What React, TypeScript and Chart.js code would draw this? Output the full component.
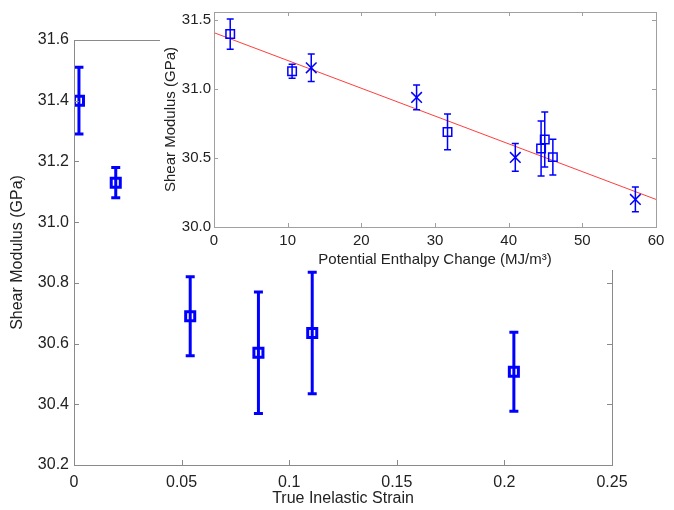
import React, { useEffect, useRef } from 'react';
import { Chart, registerables } from 'chart.js';

Chart.register(...registerables);

// ---- Main chart data (True Inelastic Strain vs Shear Modulus) ----
const strain = [0.0023, 0.0194, 0.054, 0.0857, 0.1107, 0.2044];
const squareModulus = [31.40, 31.13, 30.69, 30.57, 30.635, 30.507];
const squareErr = [0.11, 0.05, 0.13, 0.20, 0.20, 0.13];

const mainXTicks = [0, 0.05, 0.1, 0.15, 0.2, 0.25];
const mainXTickLabels = ['0', '0.05', '0.1', '0.15', '0.2', '0.25'];
const mainYTicks = [30.2, 30.4, 30.6, 30.8, 31.0, 31.2, 31.4, 31.6];
const mainYTickLabels = ['30.2', '30.4', '30.6', '30.8', '31.0', '31.2', '31.4', '31.6'];

// ---- Inset data (Potential Enthalpy Change vs Shear Modulus) ----
const squareEnthalpy = [2.2, 10.6, 31.7, 44.4, 44.9, 46.0];
const crossEnthalpy = [13.2, 27.5, 40.9, 57.2];
const crossModulus = [31.155, 30.94, 30.505, 30.20];
const crossErr = [0.10, 0.09, 0.10, 0.09];
const fitEnthalpy = [0, 60];
const fitModulus = [31.41, 30.20];

const insetXTicks = [0, 10, 20, 30, 40, 50, 60];
const insetXTickLabels = ['0', '10', '20', '30', '40', '50', '60'];
const insetYTicks = [30.0, 30.5, 31.0, 31.5];
const insetYTickLabels = ['30.0', '30.5', '31.0', '31.5'];

const FONT = '"Liberation Sans", Arial, Helvetica, sans-serif';
const BLUE = 'rgb(0,0,255)';
const TEXT = '#222222';

const errorBarsPlugin = {
  id: 'errorBars',
  afterDatasetsDraw(chart: any) {
    const { ctx } = chart;
    const xs = chart.scales.x;
    const ys = chart.scales.y;
    chart.data.datasets.forEach((ds: any, i: number) => {
      if (!ds.errors || !chart.isDatasetVisible(i)) return;
      ctx.save();
      ctx.strokeStyle = ds.borderColor;
      ctx.lineWidth = ds.errorWidth;
      const cap = ds.capHalf;
      ds.data.forEach((p: any, j: number) => {
        const px = xs.getPixelForValue(p.x);
        const yt = ys.getPixelForValue(p.y + ds.errors[j]);
        const yb = ys.getPixelForValue(p.y - ds.errors[j]);
        ctx.beginPath();
        ctx.moveTo(px, yt);
        ctx.lineTo(px, yb);
        ctx.moveTo(px - cap, yt);
        ctx.lineTo(px + cap, yt);
        ctx.moveTo(px - cap, yb);
        ctx.lineTo(px + cap, yb);
        ctx.stroke();
      });
      ctx.restore();
    });
  },
};

const framePlugin = {
  id: 'frame',
  afterDraw(chart: any, _a: any, opts: any) {
    const { ctx, chartArea } = chart;
    const { left, right, top, bottom } = chartArea;
    const xs = chart.scales.x;
    const ys = chart.scales.y;
    const len = opts.len;
    ctx.save();
    ctx.strokeStyle = opts.color;
    ctx.lineWidth = 1;
    ctx.beginPath();
    xs.ticks.forEach((_t: any, i: number) => {
      const px = Math.round(xs.getPixelForTick(i)) + 0.5;
      ctx.moveTo(px, bottom);
      ctx.lineTo(px, bottom - len);
      ctx.moveTo(px, top);
      ctx.lineTo(px, top + len);
    });
    ys.ticks.forEach((_t: any, i: number) => {
      const py = Math.round(ys.getPixelForTick(i)) + 0.5;
      ctx.moveTo(left, py);
      ctx.lineTo(left + len, py);
      ctx.moveTo(right, py);
      ctx.lineTo(right - len, py);
    });
    ctx.stroke();
    ctx.strokeRect(left + 0.5, top + 0.5, right - left, bottom - top);
    ctx.restore();
  },
};

function axis(opts: {
  ticks: number[];
  labels: string[];
  min: number;
  max: number;
  size: number;
  fontSize: number;
  title: string;
  horizontal: boolean;
  tickPad: number;
  titlePad: any;
}) {
  return {
    type: 'linear',
    min: opts.min,
    max: opts.max,
    grid: { display: false, drawTicks: false },
    border: { display: false },
    afterBuildTicks: (scale: any) => {
      scale.ticks = opts.ticks.map((v) => ({ value: v }));
    },
    afterFit: (scale: any) => {
      if (opts.horizontal) scale.height = opts.size;
      else scale.width = opts.size;
    },
    ticks: {
      autoSkip: false,
      maxRotation: 0,
      minRotation: 0,
      padding: opts.tickPad,
      color: TEXT,
      font: { family: FONT, size: opts.fontSize },
      callback: (_v: any, i: number) => opts.labels[i],
    },
    title: {
      display: true,
      text: opts.title,
      color: TEXT,
      padding: opts.titlePad,
      font: { family: FONT, size: opts.fontSize },
    },
  };
}

function MainChart() {
  const ref = useRef<HTMLCanvasElement>(null);
  useEffect(() => {
    const chart = new Chart(ref.current as HTMLCanvasElement, {
      type: 'scatter',
      data: {
        datasets: [
          {
            data: strain.map((x, i) => ({ x, y: squareModulus[i] })),
            pointStyle: 'rect',
            pointRadius: 6.4,
            borderWidth: 3,
            borderColor: BLUE,
            backgroundColor: 'rgba(0,0,0,0)',
            errors: squareErr,
            errorWidth: 3,
            capHalf: 4.5,
          } as any,
        ],
      },
      options: {
        responsive: false,
        animation: false,
        events: [],
        layout: { padding: { top: 40, right: 62, left: 0, bottom: 0 } },
        plugins: {
          legend: { display: false },
          tooltip: { enabled: false },
          frame: { color: '#8a8a8a', len: 5 },
        } as any,
        scales: {
          x: axis({
            ticks: mainXTicks, labels: mainXTickLabels, min: 0, max: 0.25,
            size: 45, fontSize: 16, title: 'True Inelastic Strain', horizontal: true,
            tickPad: 8, titlePad: { top: 2, bottom: 2 },
          }),
          y: axis({
            ticks: mainYTicks, labels: mainYTickLabels, min: 30.2, max: 31.6,
            size: 74, fontSize: 16, title: 'Shear Modulus (GPa)', horizontal: false,
            tickPad: 5, titlePad: { top: 8, bottom: 2 },
          }),
        } as any,
      },
      plugins: [errorBarsPlugin, framePlugin],
    });
    return () => chart.destroy();
  }, []);
  return <canvas ref={ref} width={674} height={510} style={{ position: 'absolute', left: 0, top: 0 }} />;
}

function InsetChart() {
  const ref = useRef<HTMLCanvasElement>(null);
  useEffect(() => {
    const chart = new Chart(ref.current as HTMLCanvasElement, {
      type: 'scatter',
      data: {
        datasets: [
          {
            data: squareEnthalpy.map((x, i) => ({ x, y: squareModulus[i] })),
            pointStyle: 'rect',
            pointRadius: 6,
            borderWidth: 1.5,
            borderColor: BLUE,
            backgroundColor: 'rgba(0,0,0,0)',
            errors: squareErr,
            errorWidth: 1.5,
            capHalf: 3.5,
          } as any,
          {
            data: crossEnthalpy.map((x, i) => ({ x, y: crossModulus[i] })),
            pointStyle: 'crossRot',
            pointRadius: 7.5,
            borderWidth: 1.5,
            borderColor: BLUE,
            backgroundColor: 'rgba(0,0,0,0)',
            errors: crossErr,
            errorWidth: 1.5,
            capHalf: 3.5,
          } as any,
          {
            type: 'line',
            data: fitEnthalpy.map((x, i) => ({ x, y: fitModulus[i] })),
            showLine: true,
            borderColor: 'rgba(255,40,40,0.9)',
            borderWidth: 1,
            pointRadius: 0,
            fill: false,
          } as any,
        ],
      },
      options: {
        responsive: false,
        animation: false,
        events: [],
        layout: { padding: { top: 5, right: 18, left: 0, bottom: 0 } },
        plugins: {
          legend: { display: false },
          tooltip: { enabled: false },
          frame: { color: '#a0a0a0', len: 4 },
        } as any,
        scales: {
          x: axis({
            ticks: insetXTicks, labels: insetXTickLabels, min: 0, max: 60,
            size: 43, fontSize: 15, title: 'Potential Enthalpy Change (MJ/m³)', horizontal: true,
            tickPad: 5, titlePad: { top: 2, bottom: 1 },
          }),
          y: axis({
            ticks: insetYTicks, labels: insetYTickLabels, min: 30.0, max: 31.56,
            size: 54, fontSize: 15, title: 'Shear Modulus (GPa)', horizontal: false,
            tickPad: 3, titlePad: { top: 2, bottom: 2 },
          }),
        } as any,
      },
      plugins: [errorBarsPlugin, framePlugin],
    });
    return () => chart.destroy();
  }, []);
  return (
    <canvas
      ref={ref}
      width={514}
      height={270}
      style={{ position: 'absolute', left: 160, top: 0, background: '#ffffff' }}
    />
  );
}

export default function App() {
  return (
    <div style={{ position: 'fixed', left: 0, top: 0, width: 674, height: 510, background: '#ffffff' }}>
      <MainChart />
      <InsetChart />
    </div>
  );
}
